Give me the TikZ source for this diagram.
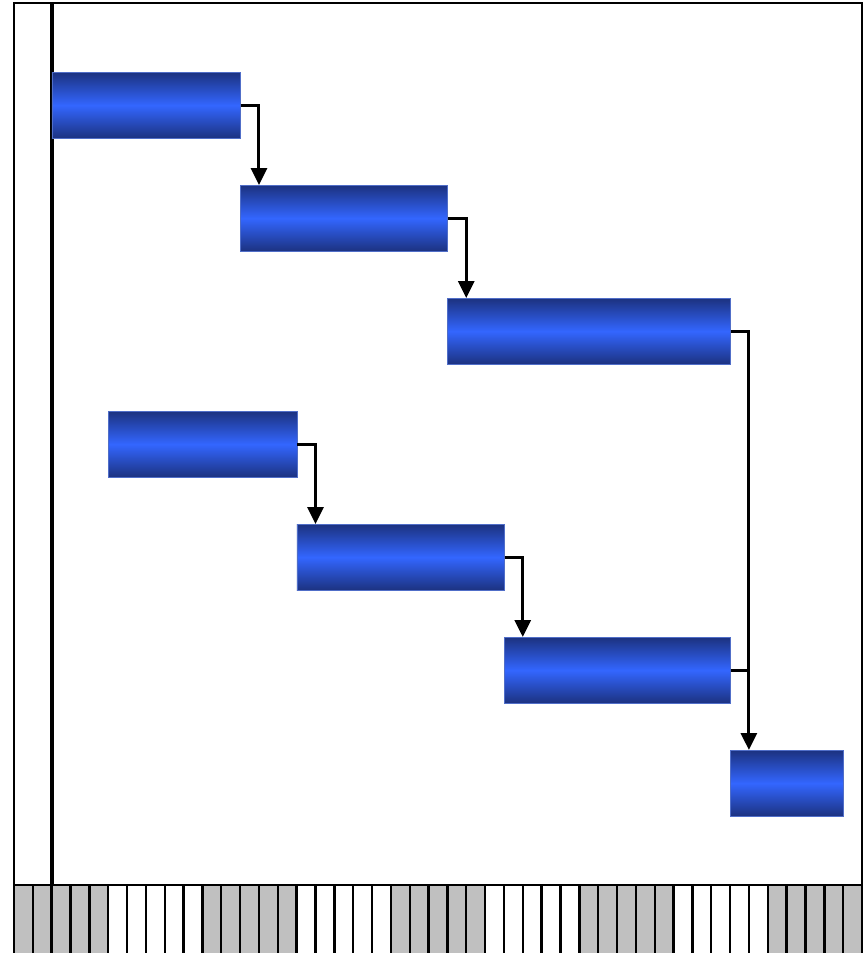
\documentclass[tikz,border=0pt]{standalone}
\usetikzlibrary{arrows.meta,calc}
\definecolor{bardark}{RGB}{28,50,128}
\definecolor{barlight}{RGB}{51,102,255}
\definecolor{barline}{RGB}{80,110,200}
\definecolor{cellgrey}{RGB}{192,192,192}
\tikzset{
  taskbar/.style={rectangle, anchor=north west, inner sep=0pt, minimum height=66pt,
    top color=bardark, bottom color=bardark, middle color=barlight,
    draw=barline, line width=0.6pt},
  link/.style={line width=3pt, -{Triangle[length=17pt,width=16pt]}},
  joinlink/.style={line width=3pt}
}
\begin{document}
\begin{tikzpicture}[x=1pt,y=-1pt]
\useasboundingbox (0,0) rectangle (864,953);
\def\cw{18.844}
% bottom strip
\foreach \i in {0,...,44}{
  \pgfmathtruncatemacro{\g}{mod(floor(\i/5),2)}
  \ifnum\g=0
    \fill[cellgrey] (14+\i*\cw,885) rectangle (14+\i*\cw+\cw,953);
  \fi
  \draw[line width=2.4pt] (14+\i*\cw,885) -- (14+\i*\cw,953);
}
\draw[line width=2.4pt] (862,885) -- (862,953);
% frame
\draw[line width=2.4pt] (14,3) rectangle (862,885);
\draw[line width=4pt] (52,3) -- (52,885);
% bars
\node[taskbar, minimum width=10*\cw] (b1) at (14+2*\cw,72) {};
\node[taskbar, minimum width=11*\cw] (b2) at (14+12*\cw,185) {};
\node[taskbar, minimum width=15*\cw] (b3) at (14+23*\cw,298) {};
\node[taskbar, minimum width=10*\cw] (b4) at (14+5*\cw,411) {};
\node[taskbar, minimum width=11*\cw] (b5) at (14+15*\cw,524) {};
\node[taskbar, minimum width=12*\cw] (b6) at (14+26*\cw,637) {};
\node[taskbar, minimum width=6*\cw] (b7) at (14+38*\cw,750) {};
% connectors
\coordinate (t2) at ($(b2.north west)+(\cw,0)$);
\coordinate (t3) at ($(b3.north west)+(\cw,0)$);
\coordinate (t5) at ($(b5.north west)+(\cw,0)$);
\coordinate (t6) at ($(b6.north west)+(\cw,0)$);
\coordinate (t7) at ($(b7.north west)+(\cw,0)$);
\draw[link] (b1.east) -| (t2);
\draw[link] (b2.east) -| (t3);
\draw[link] (b3.east) -| (t7);
\draw[link] (b4.east) -| (t5);
\draw[link] (b5.east) -| (t6);
\draw[joinlink] (b6.east) -- (b6.east -| t7);
\end{tikzpicture}
\end{document}
